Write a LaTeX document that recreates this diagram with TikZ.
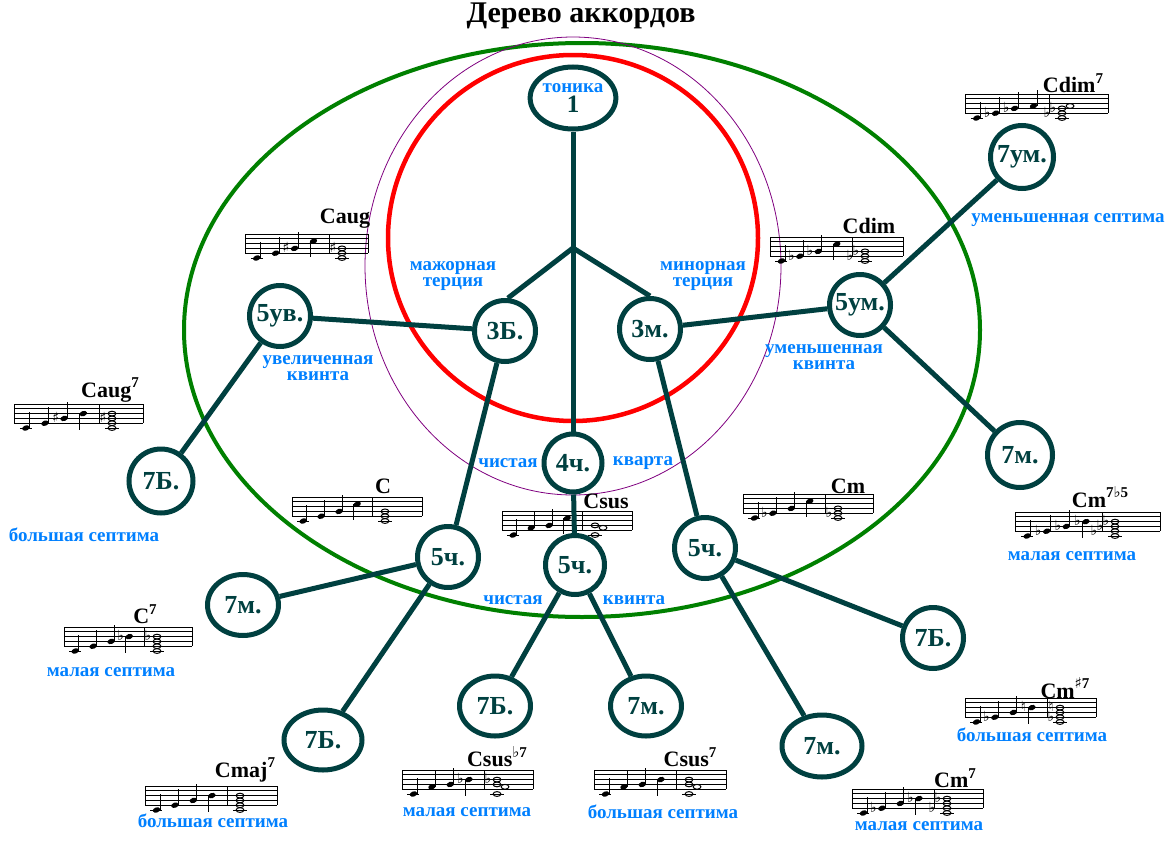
\documentclass[tikz,border=0pt]{standalone}
\usepackage{fontspec}
\setmainfont{Liberation Serif}
\newfontfamily\dvs{DejaVu Sans}
\usetikzlibrary{shapes.geometric}
\definecolor{dteal}{RGB}{0,64,64}
\definecolor{lblue}{RGB}{0,128,255}
\definecolor{dgreen}{RGB}{0,128,0}
\definecolor{dpurple}{RGB}{128,0,128}
\newcommand\nodeF{\bfseries\fontsize{26}{28}\selectfont}
\newcommand\lblF{\bfseries\fontsize{19}{16}\selectfont}
\newcommand\chF{\bfseries\fontsize{22}{24}\selectfont}
\newcommand\chsup[1]{\raisebox{0.42em}{\fontsize{15}{15}\selectfont #1}}
\tikzset{
  edge/.style={draw=dteal, line width=5pt},
  nd/.style={circle, draw=dteal, line width=5pt, fill=white, minimum size=61pt, inner sep=0pt, text=dteal, font=\nodeF},
  nde/.style={ellipse, draw=dteal, line width=5pt, fill=white, inner sep=0pt, text=dteal, font=\nodeF},
  lbl/.style={text=lblue, font=\lblF, align=center, inner sep=0pt},
  chn/.style={font=\chF, inner sep=0pt},
  stfl/.style={line width=0.8pt, black},
  acc/.style={font=\dvs\fontsize{14}{14}\selectfont, inner sep=0pt},
}
% staff: x0, ytop, width, bar, melody (step/acc), chord (step/dx/acc/accdx)
\newcommand\Stf[6]{%
 \begin{scope}[shift={(#1,#2)}]
  \foreach \k in {0,...,4} \draw[stfl] (0,\k*4.8) -- (#3,\k*4.8);
  \draw[stfl] (0,0) -- (0,19.2) (#4,0) -- (#4,19.2) (#3,0) -- (#3,19.2);
  \foreach \s/\a [count=\i] in {#5} {
    \pgfmathsetmacro\nx{#4*(0.14+0.225*(\i-1))}
    \pgfmathsetmacro\ny{19.2-2.4*(\s)}
    \pgfmathsetmacro\sdir{(\s>3.5) ? 1 : -1}
    \fill[rotate around={20:(\nx,\ny)}] (\nx,\ny) ellipse (3.8 and 2.6);
    \draw[stfl] ({\nx-3.5*\sdir},\ny) -- ({\nx-3.5*\sdir},{\ny+16*\sdir});
    \node[acc] at ({\nx-8.5},{\ny-1}) {\a};
  }
  \draw[stfl] ({#4*0.14-6},24) -- ++(12,0);
  \foreach \s/\d/\a/\ax in {#6} {
    \pgfmathsetmacro\cx{#4+13+\d}
    \pgfmathsetmacro\ny{19.2-2.4*(\s)}
    \draw[line width=1pt] (\cx,\ny) ellipse (3.9 and 2.4);
    \node[acc] at ({#4+13-9-\ax},{\ny-1}) {\a};
  }
  \draw[stfl] ({#4+6},24) -- ({#4+20},24);
 \end{scope}}
\begin{document}
\begin{tikzpicture}[x=1pt,y=-1pt]
\fill[white] (0,0) rectangle (1170,862);
\useasboundingbox (0,0) rectangle (1170,862);
% title
\node[font=\bfseries\fontsize{30}{32}\selectfont] (title) at (581,16) {Дерево аккордов};
% big rings
\draw[dgreen, line width=4pt] (582,330) ellipse (398 and 287);
\draw[dpurple, line width=0.8pt] (573,266) ellipse (208 and 229);
\draw[red, line width=4.5pt] (573,238) ellipse (185 and 183);
% staves
\Stf{245}{234}{123}{84}{-2/{},0/{},2/♯,5/{}}{-2/0/{}/0,0/0/{}/0,2/0/♯/0}
\Stf{770}{237}{133}{82}{-2/{},0/♭,2/♭,5/{}}{-2/0/{}/0,0/0/♭/6,2/0/♭/0}
\Stf{965}{94}{143}{84}{-2/{},0/♭,2/♭,3/{}}{-2/0/{}/0,0/0/♭/6,2/0/♭/0,3/8/{}/0}
\Stf{14}{404}{129}{85}{-2/{},0/{},2/♯,4/{}}{-2/0/{}/0,0/0/{}/0,2/0/♯/0,4/0/{}/0}
\Stf{292}{497}{130}{80}{-2/{},0/{},2/{},5/{}}{-2/0/{}/0,0/0/{}/0,2/0/{}/0}
\Stf{502}{511}{130}{80}{-2/{},1/{},2/{},5/{}}{-2/0/{}/0,1/8/{}/0,2/0/{}/0}
\Stf{743}{494}{130}{82}{-2/{},0/♭,2/{},5/{}}{-2/0/{}/0,0/0/♭/0,2/0/{}/0}
\Stf{1015}{512}{145}{87}{-2/{},0/♭,2/♭,4/♭}{-2/0/{}/0,0/0/♭/12,2/0/♭/6,4/0/♭/0}
\Stf{64}{627}{128}{80}{-2/{},0/{},2/{},4/♭}{-2/0/{}/0,0/0/{}/0,2/0/{}/0,4/0/♭/0}
\Stf{145}{786}{132}{82}{-2/{},0/{},2/{},4/{}}{-2/0/{}/0,0/0/{}/0,2/0/{}/0,4/0/{}/0}
\Stf{402}{770}{131}{82}{-2/{},1/{},2/{},4/♭}{-2/0/{}/0,1/8/{}/0,2/0/{}/0,4/0/♭/0}
\Stf{594}{770}{132}{82}{-2/{},1/{},2/{},4/{}}{-2/0/{}/0,1/8/{}/0,2/0/{}/0,4/0/{}/0}
\Stf{965}{698}{131}{82}{-2/{},0/♭,2/{},4/♮}{-2/0/{}/0,0/0/♭/0,2/0/{}/0,4/0/♮/0}
\Stf{852}{789}{131}{82}{-2/{},0/♭,2/{},4/♭}{-2/0/{}/0,0/0/♭/6,2/0/{}/0,4/0/♭/0}
% chord names
\node[chn] (cn1) at (345,219) {Caug};
\node[chn] (cn2) at (869,226) {Cdim};
\node[chn] (cn3) at (1073,83) {Cdim\chsup{7}};
\node[chn] (cn4) at (110,390) {Caug\chsup{7}};
\node[chn] (cn5) at (383,486) {C};
\node[chn] (cn6) at (606,501) {Csus};
\node[chn] (cn7) at (848,486) {Cm};
\node[chn] (cn8) at (1100,497) {Cm\chsup{7{\dvs♭}5}};
\node[chn] (cn9) at (145,614) {C\chsup{7}};
\node[chn] (cn10) at (245,770) {Cmaj\chsup{7}};
\node[chn] (cn11) at (497,757) {Csus\chsup{{\dvs♭}7}};
\node[chn] (cn12) at (690,757) {Csus\chsup{7}};
\node[chn] (cn13) at (1065,688) {Cm\chsup{{\dvs♯}7}};
\node[chn] (cn14) at (955,778) {Cm\chsup{7}};
% interval nodes
\node[nde, minimum width=79pt, minimum height=62pt, align=center, font=\bfseries\fontsize{25}{20}\selectfont] (ton) at (573,98) {{\color{lblue}\fontsize{19}{20}\selectfont тоника}\\1};
\coordinate (j) at (573,248);
\node[nd] (t3b) at (505,331) {3Б.};
\node[nd] (t3m) at (650,329) {3м.};
\node[nd] (q5u) at (280,316) {5ув.};
\node[nd] (q5d) at (860,305) {5ум.};
\node[nd, minimum size=63pt] (s7d) at (1022,157) {7ум.};
\node[nd, minimum size=65pt] (s7mR) at (1020,455) {7м.};
\node[nd, minimum size=64pt] (s7bL) at (161,481) {7Б.};
\node[nd, minimum size=58pt] (q4) at (573,463) {4ч.};
\node[nd, minimum size=59pt] (q5c) at (575,565) {5ч.};
\node[nd] (q5l) at (448,557) {5ч.};
\node[nd] (q5r) at (705,548) {5ч.};
\node[nde, minimum width=71pt, minimum height=61pt] (s7mL) at (243,605) {7м.};
\node[nde, minimum width=78pt, minimum height=60pt] (s7bLL) at (323,740) {7Б.};
\node[nde, minimum width=71pt, minimum height=60pt] (s7bC) at (495,706) {7Б.};
\node[nde, minimum width=71pt, minimum height=60pt] (s7mC) at (646,706) {7м.};
\node[nd] (s7bR) at (933,638) {7Б.};
\node[nde, minimum width=80pt, minimum height=62pt] (s7mLR) at (822,746) {7м.};
% connectors
\draw[edge] (ton) -- (j) -- (q4);
\draw[edge] (j) -- (t3b.85);
\draw[edge] (j) -- (t3m.north);
\draw[edge] (t3b) -- (q5u);
\draw[edge] (t3m) -- (q5d);
\draw[edge] (q5d) -- (s7d);
\draw[edge] (q5d) -- (s7mR);
\draw[edge] (q5u) -- (s7bL);
\draw[edge] (t3b) -- (q5l);
\draw[edge] (t3m) -- (q5r);
\draw[edge] (q4) -- (q5c);
\draw[edge] (q5l) -- (s7mL);
\draw[edge] (q5l) -- (s7bLL);
\draw[edge] (q5c) -- (s7bC);
\draw[edge] (q5c) -- (s7mC);
\draw[edge] (q5r) -- (s7bR);
\draw[edge] (q5r) -- (s7mLR);
% interval labels
\node[lbl] (l1) at (453,276) {мажорная\\терция};
\node[lbl] (l2) at (703,276) {минорная\\терция};
\node[lbl] (l3) at (318,368) {увеличенная\\квинта};
\node[lbl] (l4) at (824,357) {уменьшенная\\квинта};
\node[lbl] (l5) at (1068,220) {уменьшенная септима};
\node[lbl] (l6) at (84,535) {большая септима};
\node[lbl] (l7) at (508,463) {чистая};
\node[lbl] (l8) at (643,463) {кварта};
\node[lbl] (l9) at (513,600) {чистая};
\node[lbl] (l10) at (634,600) {квинта};
\node[lbl] (l11) at (111,672) {малая септима};
\node[lbl] (l12) at (213,821) {большая септима};
\node[lbl] (l13) at (467,812) {малая септима};
\node[lbl] (l14) at (663,812) {большая септима};
\node[lbl] (l15) at (919,826) {малая септима};
\node[lbl] (l16) at (1032,735) {большая септима};
\node[lbl] (l17) at (1072,556) {малая септима};
\end{tikzpicture}
\end{document}
